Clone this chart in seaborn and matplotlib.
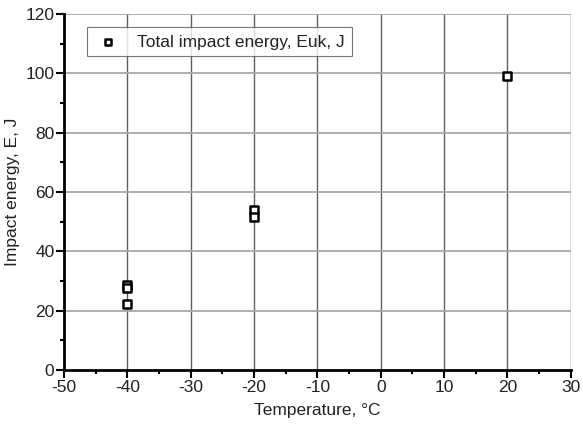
import matplotlib
matplotlib.use("Agg")
import matplotlib.pyplot as plt
import seaborn as sns
import pandas as pd
from matplotlib.ticker import MultipleLocator

temperature = [-40, -40, -40, -20, -20, 20]
energy = [28.8, 27.5, 22.2, 54.0, 51.6, 99.0]
series_label = "Total impact energy, Euk, J"

sns.set_style("white")
plt.rcParams["font.family"] = ["Liberation Sans", "DejaVu Sans"]
plt.rcParams["axes.unicode_minus"] = False

df = pd.DataFrame({"Temperature": temperature, "Energy": energy})

fig = plt.figure(figsize=(5.83, 4.28), dpi=100)
ax = fig.add_axes([0.11, 0.1355, 0.869, 0.832])

sns.scatterplot(data=df, x="Temperature", y="Energy", ax=ax, marker="s",
                s=34, facecolor="white", edgecolor="black", linewidth=1.8,
                label=series_label, zorder=5)

ax.set_xlim(-50, 30)
ax.set_ylim(0, 120)
ax.xaxis.set_major_locator(MultipleLocator(10))
ax.xaxis.set_minor_locator(MultipleLocator(5))
ax.yaxis.set_major_locator(MultipleLocator(20))
ax.yaxis.set_minor_locator(MultipleLocator(10))

# grid: vertical darker, horizontal lighter
for xv in range(-40, 31, 10):
    ax.axvline(xv, color="#606060", lw=1.0, zorder=1)
for yv in range(20, 121, 20):
    ax.axhline(yv, color="#a8a8a8", lw=1.3, zorder=1)

ax.spines["left"].set_linewidth(2)
ax.spines["bottom"].set_linewidth(2)
ax.spines["left"].set_color("black")
ax.spines["bottom"].set_color("black")
ax.spines["top"].set_visible(False)
ax.spines["right"].set_visible(False)
ax.spines["left"].set_zorder(6)
ax.spines["bottom"].set_zorder(6)

ax.tick_params(axis="both", which="major", direction="out", length=6, width=1.5,
               labelsize=12.5, color="black", labelcolor="#222222",
               left=True, bottom=True, pad=1)
ax.tick_params(axis="both", which="minor", direction="out", length=3, width=1.5,
               color="black", left=True, bottom=True)

ax.set_xlabel("Temperature, °C", fontsize=12.5, color="#222222", labelpad=6)
ax.set_ylabel("Impact energy, E, J", fontsize=12.5, color="#222222", labelpad=4)

leg = ax.legend(loc="upper left", bbox_to_anchor=(0.045, 0.962), fontsize=12.5,
                frameon=True, fancybox=False, edgecolor="#555555",
                handlelength=1.6, handletextpad=0.9, borderpad=0.4,
                borderaxespad=0, markerscale=0.75)
leg.get_frame().set_linewidth(0.8)
for t in leg.get_texts():
    t.set_color("#222222")

fig.savefig("out.png", dpi=100)
